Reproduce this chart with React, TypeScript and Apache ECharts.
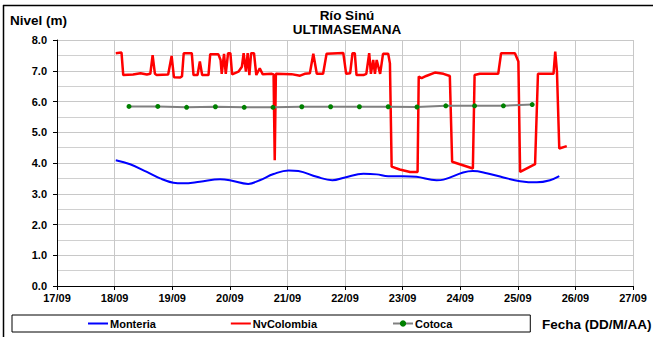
import React, { useEffect, useRef } from "react";
import * as echarts from "echarts";

const xMin = 17;
const xMax = 27;

const monteria: [number, number][] = [
  [18.02, 4.09], [18.27, 3.96], [18.56, 3.71], [18.79, 3.5], [19.02, 3.36],
  [19.19, 3.34], [19.48, 3.39], [19.83, 3.47], [20.0, 3.44], [20.32, 3.32],
  [20.52, 3.44], [20.76, 3.64], [21.02, 3.76], [21.19, 3.74], [21.51, 3.55],
  [21.78, 3.44], [22.0, 3.53], [22.32, 3.65], [22.55, 3.63], [22.75, 3.57],
  [23.0, 3.57], [23.24, 3.55], [23.59, 3.44], [23.71, 3.46], [24.05, 3.69],
  [24.22, 3.74], [24.46, 3.67], [24.75, 3.53], [25.04, 3.41], [25.33, 3.37],
  [25.56, 3.44], [25.72, 3.57],
];

const nvColombia: [number, number][] = [
  [18.02, 7.57], [18.12, 7.59], [18.15, 6.86], [18.32, 6.88], [18.45, 6.92],
  [18.56, 6.88], [18.62, 6.9], [18.66, 7.51], [18.7, 6.9], [18.73, 6.86],
  [18.93, 6.88], [18.99, 7.48], [19.03, 6.79], [19.14, 6.78], [19.17, 6.82],
  [19.2, 7.57], [19.34, 7.57], [19.37, 6.86], [19.44, 6.86], [19.48, 7.3],
  [19.52, 6.86], [19.63, 6.86], [19.66, 7.54], [19.8, 7.54], [19.84, 7.35],
  [19.86, 6.9], [19.9, 7.55], [19.93, 6.9], [19.97, 7.57], [20.01, 7.57],
  [20.04, 6.88], [20.15, 6.97], [20.21, 7.13], [20.24, 7.57], [20.28, 6.97],
  [20.31, 7.57], [20.34, 6.86], [20.37, 7.57], [20.42, 7.57], [20.46, 6.86],
  [20.52, 7.08], [20.57, 6.89], [20.73, 6.9], [20.76, 6.88], [20.78, 4.09],
  [20.8, 6.9], [21.07, 6.89], [21.22, 6.84], [21.3, 6.9], [21.39, 6.92],
  [21.45, 7.55], [21.51, 6.9], [21.62, 6.9], [21.68, 7.55], [21.97, 7.58],
  [22.02, 6.9], [22.09, 6.92], [22.13, 7.57], [22.17, 7.57], [22.2, 6.86],
  [22.32, 6.86], [22.37, 6.9], [22.42, 7.57], [22.45, 6.9], [22.49, 7.35],
  [22.52, 6.9], [22.55, 7.35], [22.61, 6.9], [22.66, 7.55], [22.75, 7.55],
  [22.78, 7.24], [22.81, 3.88], [22.95, 3.79], [23.13, 3.71], [23.26, 3.71],
  [23.28, 6.81], [23.33, 6.76], [23.41, 6.83], [23.56, 6.94], [23.71, 6.9],
  [23.82, 6.83], [23.86, 4.04], [24.22, 3.82], [24.25, 6.86], [24.34, 6.9],
  [24.66, 6.9], [24.71, 7.57], [24.95, 7.57], [25.01, 7.3], [25.04, 3.71],
  [25.3, 3.96], [25.35, 6.9], [25.62, 6.9], [25.65, 7.62], [25.68, 6.97],
  [25.72, 4.47], [25.85, 4.55],
];

const cotocaDays = [
  18.25, 18.75, 19.25, 19.75, 20.25, 20.75, 21.25, 21.75, 22.25, 22.75,
  23.25, 23.75, 24.25, 24.75, 25.25,
];
const cotocaValues = [
  5.84, 5.84, 5.81, 5.83, 5.81, 5.81, 5.83, 5.83, 5.83, 5.83,
  5.82, 5.86, 5.86, 5.86, 5.9,
];

const seriesNames = ["Monteria", "NvColombia", "Cotoca"];

export default function App() {
  const ref = useRef<HTMLDivElement>(null);

  useEffect(() => {
    const chart = echarts.init(ref.current!, null, { renderer: "svg" });
    const font = "'Liberation Sans', Arial, sans-serif";
    const lbl = { fontFamily: font, fontSize: 11, fontWeight: "bold" as const, color: "#000" };
    const lineIcon = "path://M0,0 M0,3 L20,3 L20,5 L0,5 Z M20,8";

    chart.setOption({
      animation: false,
      backgroundColor: "#fff",
      textStyle: { fontFamily: font },
      title: {
        text: "Río Sinú\nULTIMASEMANA",
        left: 347,
        top: 8.5,
        padding: 0,
        textAlign: "center",
        textStyle: { fontFamily: font, fontSize: 13.5, fontWeight: "bold", color: "#000", lineHeight: 14 },
      },
      grid: { left: 57, right: 23, top: 40, bottom: 51 },
      xAxis: {
        type: "value",
        min: xMin,
        max: xMax,
        interval: 1,
        axisLine: { show: true, lineStyle: { color: "#000", width: 1 } },
        axisTick: { show: true, length: 4, lineStyle: { color: "#000" } },
        axisLabel: { ...lbl, margin: 6, formatter: (v: number) => `${v}/09` },
        splitLine: { show: true, lineStyle: { color: "#c8c8c8", width: 1 } },
      },
      yAxis: {
        type: "value",
        min: 0,
        max: 8,
        interval: 1,
        axisLine: { show: true, lineStyle: { color: "#000", width: 1 } },
        axisTick: { show: true, length: 4, lineStyle: { color: "#000" } },
        axisLabel: { ...lbl, margin: 10, formatter: (v: number) => v.toFixed(1) },
        splitLine: { show: true, lineStyle: { color: "#c8c8c8", width: 1 } },
        minorTick: { show: false, splitNumber: 2 },
        minorSplitLine: { show: true, lineStyle: { color: "#d0d0d0", width: 1 } },
      },
      legend: {
        data: [
          { name: seriesNames[0], icon: lineIcon },
          { name: seriesNames[1], icon: lineIcon },
          { name: seriesNames[2] },
        ],
        left: 12,
        top: 315,
        orient: "horizontal",
        itemGap: 75,
        itemWidth: 20,
        itemHeight: 8,
        padding: [3, 78, 3, 76],
        borderColor: "#000",
        borderWidth: 1,
        textStyle: { ...lbl, padding: [0, 0, 0, -3] },
      },
      graphic: [
        { type: "line", shape: { x1: 3, y1: 5.5, x2: 653, y2: 5.5 }, style: { stroke: "#000", lineWidth: 1.5 } },
        { type: "line", shape: { x1: 3.5, y1: 5, x2: 3.5, y2: 337 }, style: { stroke: "#000", lineWidth: 1.5 } },
        {
          type: "text",
          left: 10,
          top: 13,
          style: { text: "Nivel (m)", font: `bold 13.5px ${font}`, fill: "#000" },
        },
        {
          type: "text",
          left: 542,
          top: 317,
          style: { text: "Fecha (DD/M/AA)", font: `bold 13.5px ${font}`, fill: "#000" },
        },
      ],
      series: [
        {
          name: "Monteria",
          type: "line",
          data: monteria,
          smooth: 0.4,
          symbol: "none",
          color: "#0000ff",
          lineStyle: { color: "#0000ff", width: 2 },
        },
        {
          name: "NvColombia",
          type: "line",
          data: nvColombia,
          symbol: "none",
          color: "#ff0000",
          lineStyle: { color: "#ff0000", width: 2.5 },
        },
        {
          name: "Cotoca",
          type: "line",
          data: cotocaDays.map((d, i) => [d, cotocaValues[i]]),
          symbol: "circle",
          symbolSize: 5,
          color: "#008000",
          itemStyle: { color: "#008000" },
          lineStyle: { color: "#808080", width: 2 },
        },
      ],
    });

    return () => chart.dispose();
  }, []);

  return (
    <div
      ref={ref}
      style={{ position: "fixed", left: 0, top: 0, width: 656, height: 337, background: "#fff" }}
    />
  );
}
